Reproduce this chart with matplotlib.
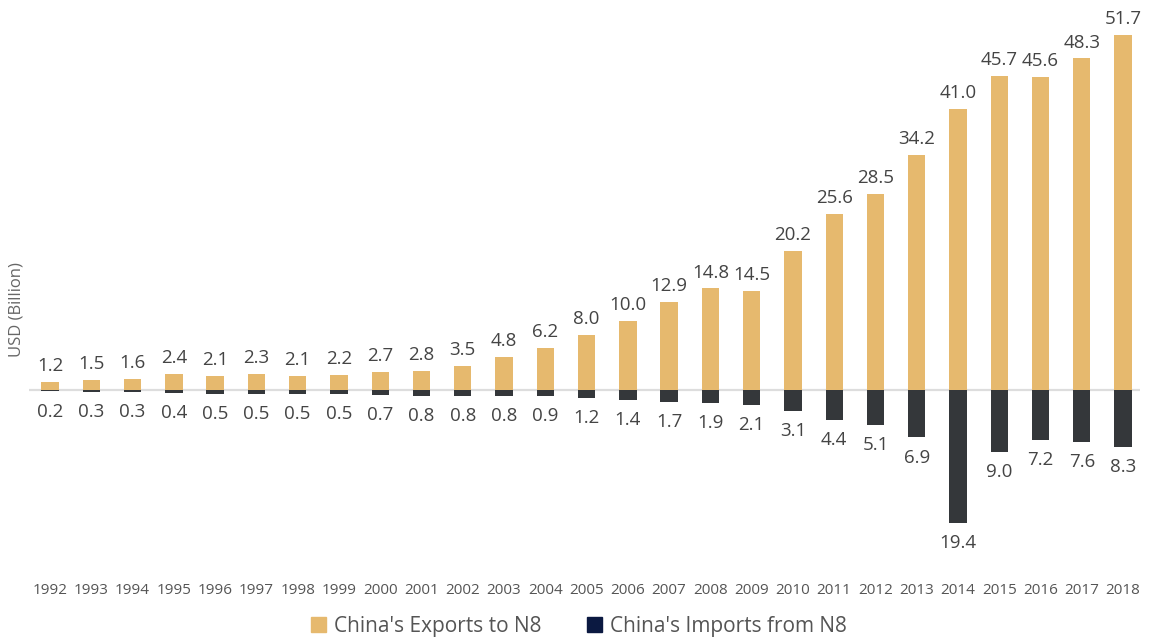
import matplotlib
matplotlib.use('Agg')
from matplotlib import pyplot as plt
from matplotlib.patches import Patch

plt.rcParams['font.family'] = ['Open Sans', 'DejaVu Sans']

years = list(range(1992, 2019))
exports = [1.2, 1.5, 1.6, 2.4, 2.1, 2.3, 2.1, 2.2, 2.7, 2.8, 3.5, 4.8, 6.2, 8.0,
           10.0, 12.9, 14.8, 14.5, 20.2, 25.6, 28.5, 34.2, 41.0, 45.7, 45.6, 48.3, 51.7]
imports = [0.2, 0.3, 0.3, 0.4, 0.5, 0.5, 0.5, 0.5, 0.7, 0.8, 0.8, 0.8, 0.9, 1.2,
           1.4, 1.7, 1.9, 2.1, 3.1, 4.4, 5.1, 6.9, 19.4, 9.0, 7.2, 7.6, 8.3]

gold = '#E6B96E'
dark = '#34373A'
navy = '#0B1941'
txt = '#444444'

fig = plt.figure(figsize=(11.49, 6.37), dpi=100)
ax = fig.add_axes([29 / 1149, 1 - 570 / 637, (1140 - 29) / 1149, 550 / 637])

x = list(range(len(years)))
ax.bar(x, exports, width=0.42, color=gold, zorder=2)
ax.bar(x, [-v for v in imports], width=0.42, color=dark, zorder=2)
ax.axhline(0, color='#dddddd', lw=1.6, zorder=1)

for i in x:
    ax.annotate('%.1f' % exports[i], (i, exports[i]), xytext=(0, 5),
                textcoords='offset points', ha='center', va='bottom',
                fontsize=13.5, color=txt)
    ax.annotate('%.1f' % imports[i], (i, -imports[i]), xytext=(0, -8),
                textcoords='offset points', ha='center', va='top',
                fontsize=13.5, color=txt)

ax.set_xlim(-0.51, 26.41)
ax.set_ylim(-26.2, 53.9)
ax.set_xticks(x)
ax.set_xticklabels([str(y) for y in years], fontsize=11, color='#555555')
ax.tick_params(axis='x', length=0, pad=9)
ax.set_yticks([])
for s in ax.spines.values():
    s.set_visible(False)

fig.text(17 / 1149, 1 - 310 / 637, 'USD (Billion)', rotation=90,
         ha='center', va='center', fontsize=12, color='#666666')

handles = [Patch(color=gold, label="China's Exports to N8"),
           Patch(color=navy, label="China's Imports from N8")]
fig.legend(handles=handles, loc='center', bbox_to_anchor=(0.504, 0.017),
           ncol=2, frameon=False, fontsize=15, handlelength=0.7,
           handleheight=0.7, handletextpad=0.4, columnspacing=2.2,
           labelcolor='#555555')

fig.savefig('out.png', dpi=100)
